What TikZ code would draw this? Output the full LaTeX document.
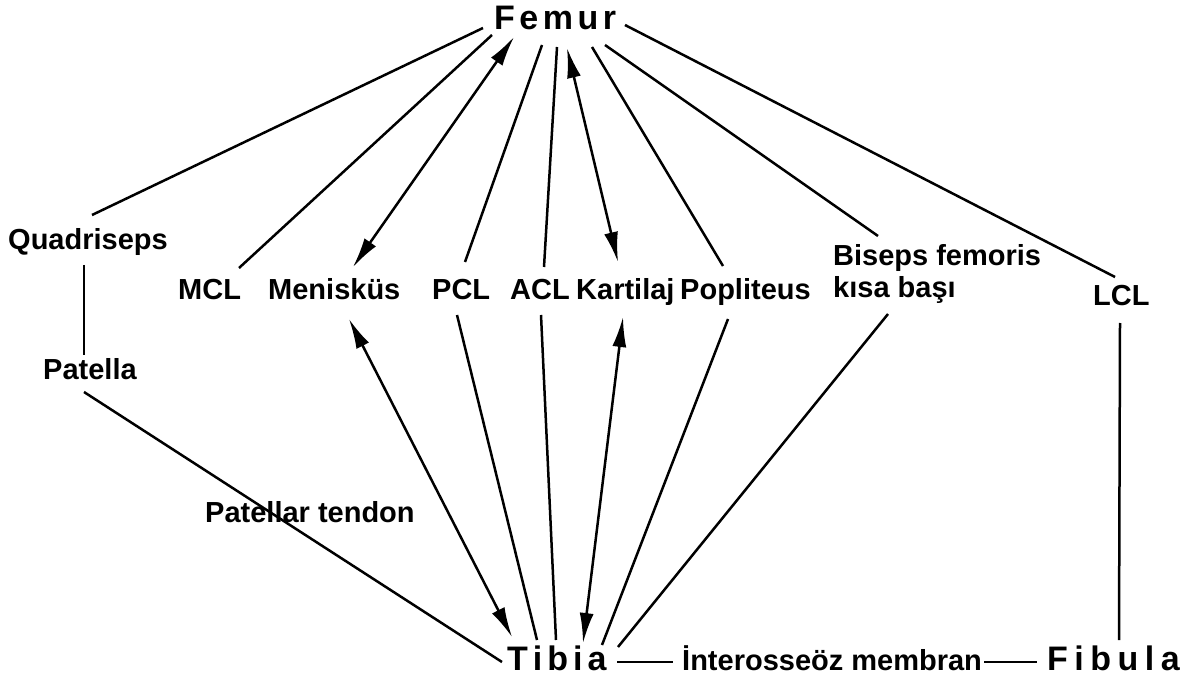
\documentclass[tikz,border=0pt]{standalone}
\usepackage{fontspec}
\setmainfont{Liberation Sans}
\usetikzlibrary{arrows.meta}
\tikzset{
  lbl/.style={font=\fontsize{29}{32}\selectfont\bfseries, inner sep=0pt, anchor=base west},
  bone/.style={font=\fontsize{34}{36}\selectfont\bfseries, inner sep=0pt, anchor=base west},
  link/.style={line width=2.5pt},
  dbl/.style={line width=2.5pt, {Latex[length=30pt,width=14pt]}-{Latex[length=30pt,width=14pt]}}
}
\newcommand{\at}[3]{([shift={(#2,#3)}]#1)}
\begin{document}
\begin{tikzpicture}[x=1pt,y=-1pt]
\useasboundingbox (0,0) rectangle (1196,684);
% nodes
\node[bone] (femur) at (494,30) {F\kern4.5pt e\kern4.5pt m\kern4.5pt u\kern4.5pt r};
\node[lbl] (quad) at (8,250) {Quadriseps};
\node[lbl] (mcl) at (178,300) {MCL};
\node[lbl] (men) at (268,300) {Menisküs};
\node[lbl] (pcl) at (432,300) {PCL};
\node[lbl] (acl) at (510,300) {ACL};
\node[lbl] (kart) at (576,300) {Kartilaj};
\node[lbl] (pop) at (680,300) {Popliteus};
\node[lbl, anchor=north west, align=left] (bis) at (833,244) {Biseps femoris\\kısa başı};
\node[lbl] (lcl) at (1093,306) {LCL};
\node[lbl] (pat) at (43,379) {Patella};
\node[lbl] (ptend) at (205,522) {Patellar tendon};
\node[bone] (tibia) at (507,670) {T\kern5pt i\kern5pt b\kern5pt i\kern5pt a};
\node[lbl] (inter) at (682,670) {İnterosseöz membran};
\node[bone] (fibula) at (1047,670) {F\kern6.5pt i\kern6.5pt b\kern6.5pt u\kern6.5pt l\kern6.5pt a};
% femur connectors
\draw[link] \at{femur.base west}{-11}{-2} -- \at{quad.base west}{84}{-35};
\draw[link] \at{femur.base west}{-2}{5} -- \at{mcl.base west}{61}{-32};
\draw[dbl] \at{femur.base west}{20}{7} -- \at{men.base west}{85}{-33};
\draw[link] \at{femur.base west}{48}{15} -- \at{pcl.base west}{33}{-38};
\draw[link] \at{femur.base west}{63}{17} -- \at{acl.base west}{34}{-33};
\draw[dbl] \at{femur.base west}{73}{18} -- \at{kart.base west}{42}{-38};
\draw[link] \at{femur.base west}{98}{17} -- \at{pop.base west}{43}{-34};
\draw[link] \at{femur.base west}{111}{15} -- \at{bis.north west}{45}{-8};
\draw[link] \at{femur.base west}{131}{-5} -- \at{lcl.base west}{22}{-29};
% quadriceps chain
\draw[link] \at{quad.base west}{76}{15} -- \at{pat.base west}{41}{-24};
\draw[link] \at{pat.base west}{41}{13} -- \at{tibia.base west}{-5}{-8};
% tibia connectors
\draw[dbl] \at{men.base west}{81}{19} -- \at{tibia.base west}{5}{-33};
\draw[link] \at{pcl.base west}{25}{15} -- \at{tibia.base west}{30}{-30};
\draw[link] \at{acl.base west}{31}{15} -- \at{tibia.base west}{49}{-30};
\draw[dbl] \at{kart.base west}{47}{17} -- \at{tibia.base west}{76}{-27};
\draw[link] \at{pop.base west}{48}{19} -- \at{tibia.base west}{95}{-25};
\draw[link] \at{bis.north west}{55}{70} -- \at{tibia.base west}{111}{-23};
% fibula side
\draw[link] \at{lcl.base west}{27}{17} -- \at{fibula.base west}{72}{-30};
\draw[link] \at{tibia.base west}{110}{-8} -- \at{inter.base west}{-9}{-8};
\draw[link] \at{inter.base east}{2}{-8} -- \at{fibula.base west}{-10}{-8};
\end{tikzpicture}
\end{document}
